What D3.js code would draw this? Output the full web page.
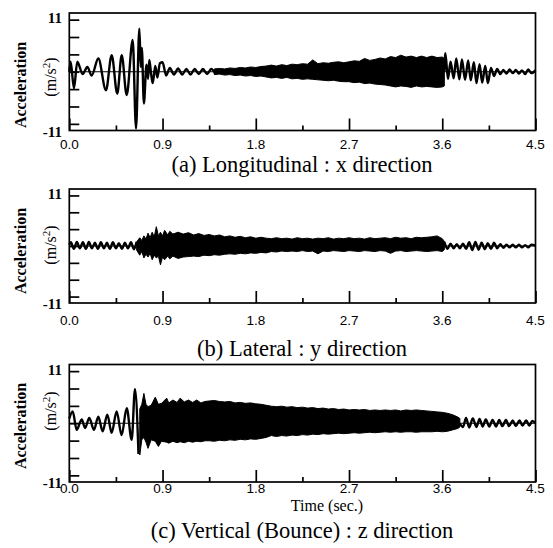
<!DOCTYPE html>
<html><head><meta charset="utf-8">
<script src="https://cdn.jsdelivr.net/npm/d3@7/dist/d3.min.js"></script>
<style>
html,body{margin:0;padding:0;background:#fff;}
svg{display:block;}
</style></head>
<body>
<svg id="c" width="553" height="548"></svg>
<script>
// ---------- data ----------
const xMajorTicks = [0, 0.9, 1.8, 2.7, 3.6, 4.5];
const xTickLabels = ["0.0", "0.9", "1.8", "2.7", "3.6", "4.5"];
const xMinorTicks = [0.45, 1.35, 2.25, 3.15, 4.05];
const yTicks = [-11, -22/3, -11/3, 0, 11/3, 22/3, 11];
const yTickLabels = ["11", "-11"];
const panelTitles = ["(a) Longitudinal : x direction", "(b) Lateral : y direction", "(c) Vertical (Bounce) : z direction"];

// Panel (a): readable oscillation extrema (time s, acceleration m/s^2)
const aLineT = [0.000,0.013,0.045,0.077,0.129,0.174,0.216,0.280,0.354,0.409,0.463,0.506,0.554,0.612,0.644,0.676,0.690,0.700,0.720,0.745,0.760,0.772,0.790,0.805,0.830,0.850,0.875,0.900,0.935,0.970,1.010,1.050,1.090,1.130,1.170,1.210,1.250,1.290,1.330,1.370,1.410,
  3.620,3.630,3.655,3.680,3.710,3.735,3.765,3.790,3.820,3.850,3.875,3.905,3.930,3.960,3.985,4.015,4.040,4.070,4.100,4.130,4.160,4.190,4.220,4.250,4.280,4.310,4.340,4.370,4.400,4.430,4.460,4.500];
const aLineV = [0.0,2.1,-3.5,2.1,-0.5,1.0,-0.8,2.8,-3.9,3.5,-4.6,3.5,-4.9,6.7,-12.0,9.1,1.0,5.0,-6.7,1.5,-1.5,2.5,-0.5,-2.4,1.2,-1.2,1.8,2.0,-0.8,0.8,-0.6,0.7,-0.6,0.6,-0.6,0.6,-0.5,0.6,-0.5,0.6,-0.5,
  0.0,3.9,-1.5,2.1,-1.4,2.8,-1.6,2.6,-1.7,2.4,-1.8,2.0,-2.4,1.6,-2.3,1.2,-2.4,0.8,-0.9,0.6,-0.5,0.4,-0.4,0.5,-0.3,0.4,-0.4,0.3,-0.5,0.5,-0.3,0.3];
// Panel (a): dense-band envelope
const aBandT  = [1.40,1.45,1.50,1.55,1.60,1.65,1.70,1.75,1.80,1.85,1.90,1.95,2.00,2.05,2.10,2.15,2.20,2.25,2.30,2.35,2.40,2.45,2.50,2.55,2.60,2.65,2.70,2.75,2.80,2.85,2.90,2.95,3.00,3.05,3.10,3.15,3.20,3.25,3.30,3.35,3.40,3.45,3.50,3.55,3.60,3.62];
const aBandHi = [0.6,0.7,0.6,0.8,0.7,0.9,0.8,1.0,0.9,1.1,1.2,1.4,1.2,1.5,1.3,1.6,1.5,1.7,1.6,2.5,1.7,1.9,1.8,2.0,2.1,1.9,2.1,2.3,2.2,2.8,2.4,2.6,2.9,2.7,3.2,3.0,3.5,3.1,3.3,3.0,3.3,3.0,3.3,3.0,3.1,2.8];
const aBandLo = [-0.6,-0.5,-0.7,-0.6,-0.8,-0.7,-0.9,-0.8,-1.0,-0.9,-1.1,-1.3,-1.2,-1.4,-1.2,-1.5,-1.4,-1.6,-1.5,-1.6,-1.7,-1.8,-1.9,-1.8,-2.0,-2.1,-2.1,-2.3,-2.2,-2.5,-2.4,-2.6,-2.7,-2.8,-3.0,-3.2,-3.0,-3.1,-3.3,-3.0,-3.2,-3.1,-3.2,-3.3,-3.2,-3.0];

// Panel (b)
const bLineT = [0.000,0.015,0.044,0.073,0.102,0.131,0.160,0.189,0.218,0.247,0.276,0.305,0.334,0.363,0.392,0.421,0.450,0.479,0.508,0.537,0.566,0.595,0.624,0.650,
  3.620,3.650,3.680,3.710,3.740,3.770,3.800,3.830,3.860,3.890,3.920,3.950,3.980,4.010,4.040,4.070,4.100,4.130,4.160,4.190,4.220,4.250,4.280,4.310,4.340,4.370,4.400,4.430,4.460,4.500];
const bLineV = [0.3,0.8,-0.6,0.9,-0.5,0.8,-0.6,0.9,-0.5,0.7,-0.6,0.8,-0.5,0.7,-0.6,0.8,-0.5,0.6,-0.6,0.7,-0.5,0.8,-0.7,0.9,
  0.9,-0.6,0.5,-0.5,0.4,-0.5,0.5,-0.6,0.8,-0.9,0.9,-0.8,0.7,-0.7,0.6,-0.6,0.7,-0.5,0.4,-0.4,0.3,-0.3,0.3,-0.3,0.3,-0.3,0.2,-0.3,0.3,0.1];
const bBandT  = [0.65,0.68,0.70,0.72,0.74,0.76,0.78,0.80,0.82,0.84,0.86,0.88,0.90,0.92,0.95,0.97,1.00,
  1.05,1.10,1.15,1.20,1.25,1.30,1.35,1.40,1.45,1.50,1.55,1.60,1.65,1.70,1.75,1.80,1.85,1.90,1.95,2.00,2.05,2.10,2.15,2.20,2.25,2.30,2.35,2.40,2.45,2.50,2.55,2.60,2.65,2.70,2.75,2.80,2.85,2.90,2.95,3.00,3.05,3.10,3.15,3.20,3.25,3.30,3.35,3.40,3.45,3.50,3.55,3.60,3.62];
const bBandHi = [0.9,1.8,1.2,2.2,1.5,2.8,1.8,3.0,2.0,4.2,2.2,3.0,2.2,3.4,2.4,3.2,2.6,
  3.0,2.6,2.9,2.4,2.7,2.3,2.5,2.2,2.4,2.0,2.2,1.9,2.1,1.8,2.0,1.7,1.9,1.7,1.6,1.8,1.6,1.7,1.5,1.8,1.6,1.7,1.5,1.7,1.6,1.8,1.5,1.7,1.6,1.8,1.6,1.7,1.5,1.8,1.6,1.7,1.8,1.6,1.9,1.7,1.8,1.6,1.9,1.8,1.9,2.0,2.2,1.6,1.0];
const bBandLo = [-0.9,-2.0,-1.2,-2.6,-1.8,-2.4,-1.6,-3.0,-2.0,-2.6,-2.2,-4.1,-2.4,-3.0,-2.2,-2.8,-2.2,
  -2.7,-2.4,-2.3,-2.2,-2.3,-2.0,-2.1,-1.9,-2.0,-1.8,-1.7,-1.8,-1.6,-1.7,-1.5,-1.6,-1.4,-1.5,-1.2,-1.3,-1.1,-1.2,-1.1,-1.2,-1.0,-1.2,-1.1,-1.7,-1.1,-1.2,-1.0,-1.1,-1.2,-1.0,-1.1,-1.2,-1.0,-1.1,-1.2,-1.0,-1.1,-1.6,-1.1,-1.0,-1.2,-1.1,-1.0,-1.1,-1.2,-1.1,-1.0,-1.2,-0.8];

// Panel (c)
const cLineT = [0.000,0.033,0.071,0.120,0.152,0.193,0.238,0.280,0.322,0.367,0.409,0.457,0.505,0.554,0.602,0.634,0.668,
  3.770,3.800,3.830,3.860,3.895,3.930,3.960,3.990,4.020,4.055,4.085,4.120,4.150,4.180,4.215,4.245,4.280,4.310,4.345,4.375,4.410,4.440,4.470,4.500];
const cLineV = [1.0,2.5,-1.4,0.8,-1.0,1.1,-1.4,1.4,-1.7,1.8,-2.0,2.5,-2.5,3.2,-3.5,7.2,-6.5,
  0.0,-0.8,1.1,-0.9,1.0,-0.8,0.9,-0.7,0.8,-0.7,0.7,-0.7,0.7,-0.6,0.7,-0.6,0.6,-0.6,0.6,-0.5,0.6,-0.5,0.5,0.0];
const cBandT  = [0.68,0.70,0.72,0.74,0.76,0.79,0.83,0.86,0.89,0.94,0.96,1.00,1.04,1.07,1.11,1.15,1.19,1.23,1.27,1.31,
  1.35,1.40,1.45,1.50,1.55,1.60,1.65,1.70,1.75,1.80,1.85,1.90,1.95,2.00,2.05,2.10,2.15,2.20,2.25,2.30,2.35,2.40,2.45,2.50,2.55,2.60,2.65,2.70,2.75,2.80,2.85,2.90,2.95,3.00,3.05,3.10,3.15,3.20,3.25,3.30,3.35,3.40,3.45,3.50,3.55,3.60,3.65,3.70,3.75,3.77];
const cBandHi = [3.0,4.0,6.3,4.0,3.5,3.8,5.5,4.0,4.2,5.3,4.3,4.9,4.4,5.3,4.5,4.9,4.4,4.9,4.3,4.6,
  4.7,4.8,4.6,4.5,4.6,4.3,4.4,4.2,4.3,4.1,4.0,3.8,3.6,3.5,3.6,3.4,3.5,3.3,3.4,3.2,3.3,3.1,3.2,3.0,3.1,2.9,3.0,2.8,2.9,2.8,2.9,2.7,2.8,2.7,2.8,2.7,2.8,2.6,2.8,2.7,2.8,2.7,2.6,2.5,2.4,2.3,2.1,1.8,1.3,1.0];
const cBandLo = [-6.7,-3.5,-3.0,-4.0,-5.3,-3.5,-3.8,-4.9,-3.8,-4.0,-4.2,-3.8,-4.1,-3.9,-4.1,-3.8,-4.0,-3.8,-3.9,-3.7,
  -3.7,-3.8,-3.6,-3.7,-3.5,-3.6,-3.4,-3.5,-3.3,-3.4,-3.2,-3.0,-2.6,-2.8,-2.6,-2.7,-2.5,-2.6,-2.4,-2.5,-2.3,-2.4,-2.2,-2.3,-2.2,-2.1,-2.2,-2.1,-2.0,-2.1,-2.0,-1.9,-2.0,-1.9,-1.8,-1.9,-1.8,-1.9,-1.8,-1.8,-1.9,-1.8,-1.8,-1.8,-1.7,-1.8,-1.7,-1.4,-1.1,-0.8];

// ---------- layout ----------
const W = 553, H = 548;
const X0 = 69.3, X1 = 535.5;
const Y_DOMAIN = [-12.4, 12.4];
const panels = [
  {top: 13, bottom: 130.5, lineT: aLineT, lineV: aLineV, bandT: aBandT, hi: aBandHi, lo: aBandLo,
   tickLabelY: 149, titleY: 172, titleSize: 22.5, accY: 85, unitY: 77},
  {top: 189, bottom: 303, lineT: bLineT, lineV: bLineV, bandT: bBandT, hi: bBandHi, lo: bBandLo,
   tickLabelY: 325, titleY: 356, titleSize: 22.5, accY: 251, unitY: 245},
  {top: 364.5, bottom: 482, lineT: cLineT, lineV: cLineV, bandT: cBandT, hi: cBandHi, lo: cBandLo,
   tickLabelY: 493, titleY: 538, titleSize: 22.5, accY: 426, unitY: 411}
];

const svg = d3.select("#c");
svg.append("rect").attr("width", W).attr("height", H).attr("fill", "#fff");

const x = d3.scaleLinear().domain([0, 4.5]).range([X0, X1]);
const serif = "'Liberation Serif','Times New Roman',Times,serif";
const sans = "'Liberation Sans',Arial,Helvetica,sans-serif";

panels.forEach((p, i) => {
  const y = d3.scaleLinear().domain(Y_DOMAIN).range([p.bottom, p.top]);
  const g = svg.append("g");

  // zero reference line
  g.append("line").attr("x1", X0).attr("x2", X1).attr("y1", y(0)).attr("y2", y(0))
    .attr("stroke", "#000").attr("stroke-width", 1);

  // dense band
  const bandData = p.bandT.map((t, k) => ({t, hi: p.hi[k], lo: p.lo[k]}));
  g.append("path").datum(bandData)
    .attr("d", d3.area().x(d => x(d.t)).y0(d => y(d.lo)).y1(d => y(d.hi)))
    .attr("fill", "#000").attr("stroke", "#000").attr("stroke-width", 1);

  // oscillation line: split into segments where the series jumps over the dense band
  const lineData = p.lineT.map((t, k) => ({t, v: p.lineV[k]}));
  const segs = [[]];
  lineData.forEach((d, k) => {
    if (k > 0 && d.t - lineData[k - 1].t > 0.5) segs.push([]);
    segs[segs.length - 1].push(d);
  });
  const lineGen = d3.line().x(d => x(d.t)).y(d => y(d.v)).curve(d3.curveMonotoneX);
  segs.forEach(s => {
    g.append("path").datum(s).attr("d", lineGen)
      .attr("fill", "none").attr("stroke", "#000").attr("stroke-width", 2.4).attr("stroke-linejoin", "round");
  });

  // frame
  g.append("rect").attr("x", X0).attr("y", p.top).attr("width", X1 - X0).attr("height", p.bottom - p.top)
    .attr("fill", "none").attr("stroke", "#000").attr("stroke-width", 1.7);

  // x ticks (inward)
  const axMaj = d3.axisBottom(x).tickValues(xMajorTicks).tickSize(-12).tickFormat("");
  const axMin = d3.axisBottom(x).tickValues(xMinorTicks).tickSize(-5).tickFormat("");
  [axMaj, axMin].forEach(ax => {
    const ag = g.append("g").attr("transform", `translate(0,${p.bottom})`).call(ax);
    ag.select(".domain").remove();
    ag.selectAll("line").attr("stroke", "#000").attr("stroke-width", 1.7);
  });
  // y ticks (inward)
  const ay = g.append("g").attr("transform", `translate(${X0},0)`)
    .call(d3.axisLeft(y).tickValues(yTicks).tickSize(-10).tickFormat(""));
  ay.select(".domain").remove();
  ay.selectAll("line").attr("stroke", "#000").attr("stroke-width", 1.7);

  // x tick labels
  g.selectAll(".xl").data(xMajorTicks).enter().append("text")
    .attr("x", d => x(d)).attr("y", p.tickLabelY)
    .attr("text-anchor", "middle").attr("font-family", sans).attr("font-size", 13.5)
    .text((d, k) => xTickLabels[k]);

  // y tick labels (11 / -11)
  g.append("text").attr("x", 62).attr("y", p.top + 10).attr("text-anchor", "end")
    .attr("font-family", serif).attr("font-weight", "bold").attr("font-size", 15).text(yTickLabels[0]);
  g.append("text").attr("x", 62).attr("y", p.bottom + 6).attr("text-anchor", "end")
    .attr("font-family", serif).attr("font-weight", "bold").attr("font-size", 15).text(yTickLabels[1]);

  // y axis label
  g.append("text").attr("transform", `translate(26,${p.accY}) rotate(-90)`)
    .attr("text-anchor", "middle").attr("font-family", serif).attr("font-weight", "bold").attr("font-size", 16)
    .text("Acceleration");
  const u = g.append("text").attr("transform", `translate(56,${p.unitY}) rotate(-90)`)
    .attr("text-anchor", "middle").attr("font-family", serif).attr("font-size", 16);
  u.append("tspan").text("(m/s");
  u.append("tspan").attr("dy", -6).attr("font-size", 11).text("2");
  u.append("tspan").attr("dy", 6).text(")");

  // panel title
  g.append("text").attr("x", 302).attr("y", p.titleY).attr("text-anchor", "middle")
    .attr("font-family", serif).attr("font-size", p.titleSize).text(panelTitles[i]);
});

// x axis title (bottom panel)
svg.append("text").attr("x", 327).attr("y", 511).attr("text-anchor", "middle")
  .attr("font-family", serif).attr("font-size", 16).text("Time (sec.)");
</script>
</body></html>
